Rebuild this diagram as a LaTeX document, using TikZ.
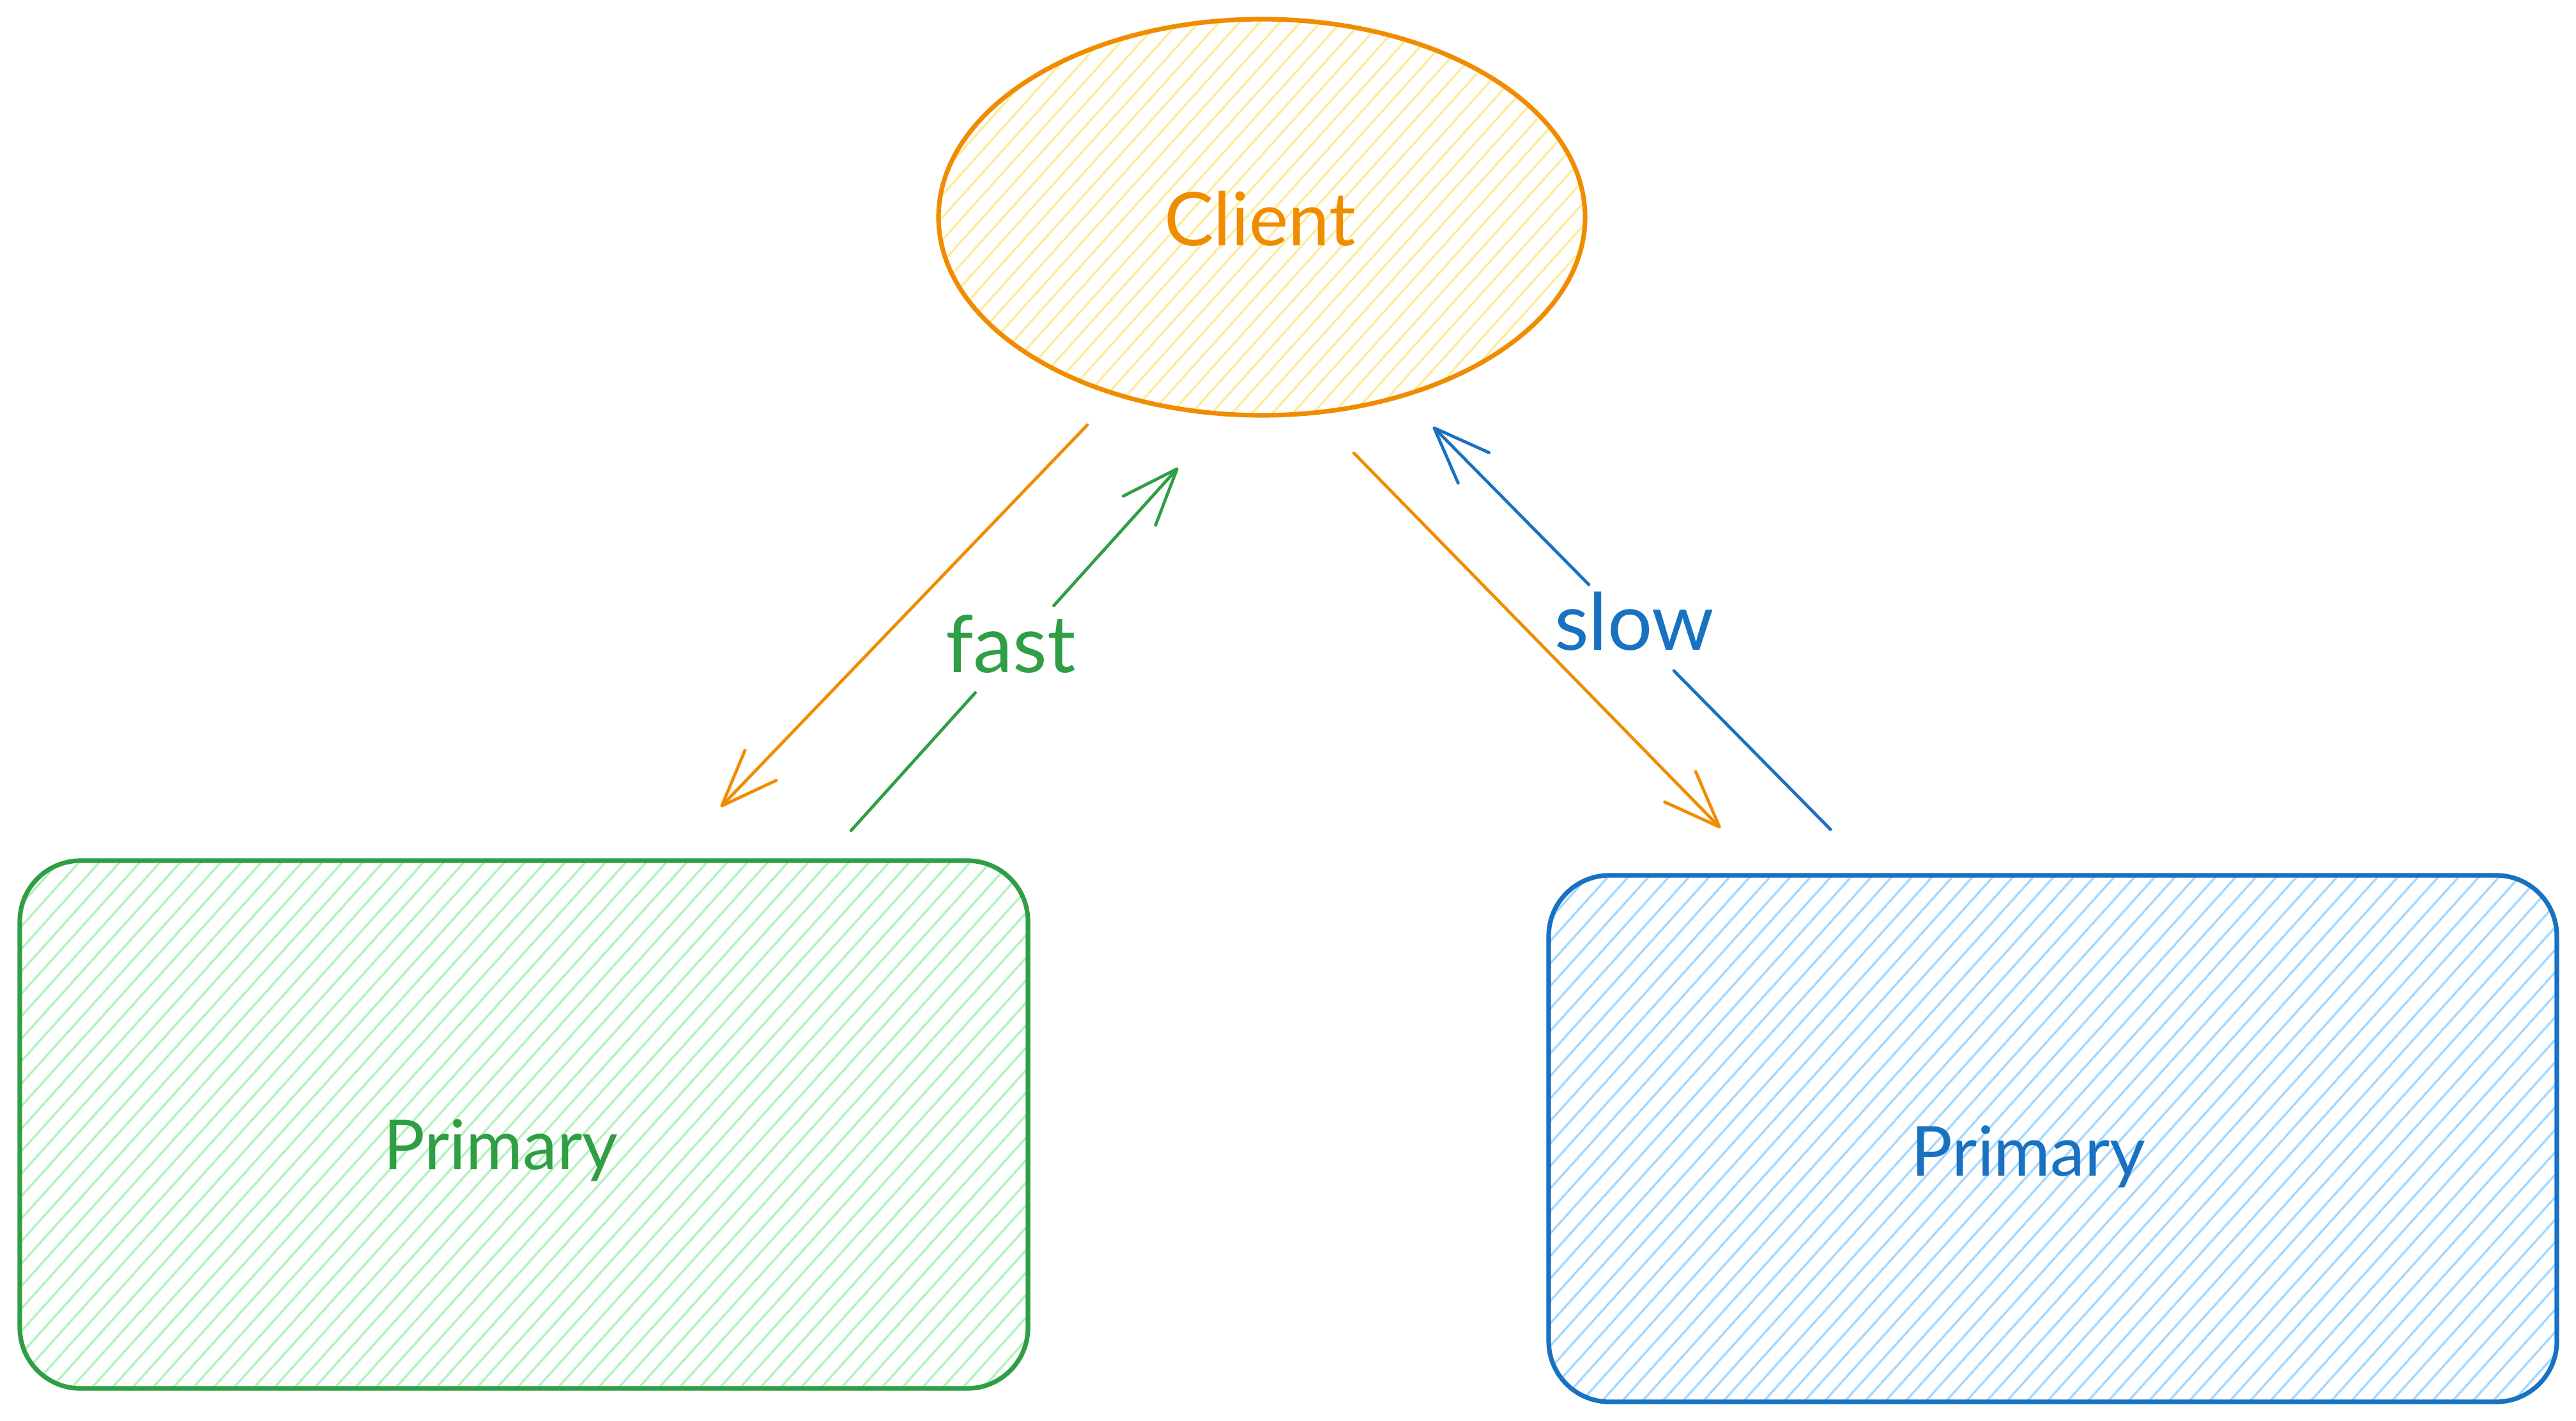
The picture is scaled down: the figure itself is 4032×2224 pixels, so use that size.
\documentclass[tikz,border=0pt]{standalone}
\usepackage{fontspec}
\setmainfont{Lato}
\usetikzlibrary{arrows.meta,shapes.geometric,calc}
\definecolor{exorange}{HTML}{F08C00}
\definecolor{exyellow}{HTML}{FFEC99}
\definecolor{exgreen}{HTML}{2F9E44}
\definecolor{exlgreen}{HTML}{B2F2BB}
\definecolor{exblue}{HTML}{1971C2}
\definecolor{exlblue}{HTML}{A5D8FF}
\begin{document}
\begin{tikzpicture}[x=0.25pt,y=-0.25pt,
  shapeline/.style={line width=1.8pt},
  hatchline/.style={line width=0.85pt, line cap=round},
  wire/.style={line width=1.2pt, line cap=round, line join=round},
  conn/.style={wire, -{Straight Barb[length=22pt,width=17pt,round]}},
  lbl/.style={font=\fontsize{31}{36}\selectfont, inner sep=0pt},
  boxtext/.style={font=\fontsize{27}{32}\selectfont, anchor=base},
  roundbox/.style={rounded corners=23.75pt, minimum width=394.5pt, minimum height=206.5pt, inner sep=0pt, shapeline}
]
\useasboundingbox (0,0) rectangle (4032,2224);
\fill[white] (0,0) rectangle (4032,2224);

% ---- Client ellipse ----
\begin{scope}
  \clip (1975,340) ellipse [x radius=506, y radius=310];
  \foreach \k in {0,...,52}
    \draw[hatchline, exyellow] ({1469-558+\k*31.7},650) -- ++(558,-620);
\end{scope}
\node[ellipse, draw=exorange, shapeline, minimum width=253pt, minimum height=155pt, inner sep=0pt] (client) at (1975,340) {};
\node[font=\fontsize{29}{34}\selectfont, text=exorange, anchor=base] (clientt) at (1972,385) {Client};

% ---- Green Primary ----
\begin{scope}
  \clip[rounded corners=23.75pt] (31,1347) rectangle (1609,2173);
  \foreach \k in {0,...,75}
    \draw[hatchline, exlgreen] ({31-744+\k*31.7},2173) -- ++(744,-826);
\end{scope}
\node[roundbox, draw=exgreen] (prim1) at (820,1760) {};
\node[boxtext, text=exgreen] (prim1t) at (784,1830) {Primary};

% ---- Blue Primary ----
\begin{scope}
  \clip[rounded corners=23.75pt] (2424,1370) rectangle (4002,2194);
  \foreach \k in {0,...,75}
    \draw[hatchline, exlblue] ({2424-742+\k*31.7},2194) -- ++(742,-824);
\end{scope}
\node[roundbox, draw=exblue, minimum height=206pt] (prim2) at (3213,1782) {};
\node[boxtext, text=exblue] (prim2t) at (3175,1840) {Primary};

% ---- Connectors ----
\coordinate (o1s) at (1702,665);
\coordinate (o1e) at (1128,1263);
\draw[conn, exorange] (o1s) -- (o1e);

\coordinate (g1s) at (1332,1300);
\coordinate (g1e) at (1844,732);
\draw[wire, exgreen] (g1s) -- ($(g1s)!0.38!(g1e)$);
\draw[conn, exgreen] ($(g1s)!0.62!(g1e)$) -- (g1e);
\node[lbl, text=exgreen] (fast) at (1582,1008) {fast};

\coordinate (o2s) at (2119,709);
\coordinate (o2e) at (2693,1296);
\draw[conn, exorange] (o2s) -- (o2e);

\coordinate (b1s) at (2865,1298);
\coordinate (b1e) at (2243,668);
\draw[wire, exblue] (b1s) -- ($(b1s)!0.394!(b1e)$);
\draw[conn, exblue] ($(b1s)!0.608!(b1e)$) -- (b1e);
\node[lbl, text=exblue] (slow) at (2558,972) {slow};
\end{tikzpicture}
\end{document}
